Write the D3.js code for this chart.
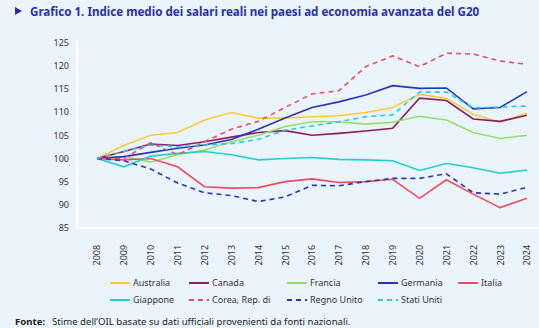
<!DOCTYPE html>
<html>
<head>
<meta charset="utf-8">
<script src="https://cdn.jsdelivr.net/npm/d3@7"></script>
<style>
  body { margin: 0; background: #eaf4fd; }
  svg { display: block; font-family: "Noto Sans", sans-serif; }
</style>
</head>
<body>
<script>
// anni e serie (indice, 2008 = 100)
var years = [2008, 2009, 2010, 2011, 2012, 2013, 2014, 2015, 2016, 2017, 2018, 2019, 2020, 2021, 2022, 2023, 2024];
var australia = [100, 102.8, 105.0, 105.6, 108.3, 109.9, 108.7, 108.7, 109.0, 109.2, 109.9, 111.0, 113.8, 113.0, 109.5, 107.8, 109.8];
var canada = [100, 101.5, 103.1, 102.8, 103.6, 104.6, 105.6, 106.0, 105.0, 105.4, 105.9, 106.5, 113.0, 112.5, 108.5, 108.0, 109.3];
var francia = [100, 100.4, 99.2, 100.8, 101.8, 103.6, 105.0, 106.9, 107.9, 107.9, 107.4, 107.8, 109.1, 108.3, 105.6, 104.3, 105.0];
var germania = [100, 100.4, 101.3, 102.2, 102.9, 104.1, 106.3, 108.7, 111.0, 112.2, 113.7, 115.7, 115.1, 115.2, 110.7, 111.0, 114.4];
var italia = [100, 99.7, 100.0, 98.2, 93.9, 93.6, 93.7, 95.0, 95.6, 94.8, 95.0, 95.5, 91.4, 95.4, 92.3, 89.4, 91.4];
var giappone = [100, 98.2, 100.5, 101.1, 101.5, 100.8, 99.7, 100.0, 100.2, 99.8, 99.7, 99.5, 97.4, 98.9, 98.0, 96.8, 97.5];
var corea = [100, 100.0, 103.4, 100.8, 103.6, 106.3, 108.0, 111.0, 113.9, 114.6, 119.8, 122.1, 119.8, 122.7, 122.5, 121.0, 120.3];
var regnoUnito = [100, 99.5, 97.7, 94.7, 92.6, 92.0, 90.7, 91.7, 94.2, 94.1, 95.0, 95.7, 95.7, 96.7, 92.6, 92.3, 93.8];
var statiUniti = [100, 101.5, 102.9, 102.5, 102.9, 103.2, 104.1, 106.1, 107.0, 107.9, 109.0, 109.4, 114.3, 114.3, 110.9, 111.1, 111.3];
var yTicks = [85, 90, 95, 100, 105, 110, 115, 120, 125];

var series = [
  { name: "Australia", values: australia, color: "#ffc933", dash: null },
  { name: "Canada", values: canada, color: "#8c1c5e", dash: null },
  { name: "Francia", values: francia, color: "#93e065", dash: null },
  { name: "Germania", values: germania, color: "#2b32c0", dash: null },
  { name: "Italia", values: italia, color: "#f44a5c", dash: null },
  { name: "Giappone", values: giappone, color: "#22cfcf", dash: null },
  { name: "Corea, Rep. di", values: corea, color: "#f44a5c", dash: "5,4" },
  { name: "Regno Unito", values: regnoUnito, color: "#2b32c0", dash: "5,4" },
  { name: "Stati Uniti", values: statiUniti, color: "#22cfdc", dash: "5,4" }
];

var w = 539, h = 328;
var svg = d3.select("body").append("svg").attr("width", w).attr("height", h);

// titolo
svg.append("path")
  .attr("d", "M15,7 L22,11 L15,15 Z")
  .attr("fill", "#2b2fa8");
svg.append("text")
  .attr("x", 30).attr("y", 15.5)
  .attr("font-size", "11.6px").attr("font-weight", "bold")
  .attr("fill", "#2b2fa8")
  .text("Grafico 1. Indice medio dei salari reali nei paesi ad economia avanzata del G20");

var x = d3.scalePoint().domain(years).range([97, 527]);
var y = d3.scaleLinear().domain([85, 125]).range([228, 42.5]);

// assi bianchi
svg.append("line").attr("x1", 77).attr("x2", 77).attr("y1", 40).attr("y2", 228)
  .attr("stroke", "#ffffff").attr("stroke-width", 2);
svg.append("line").attr("x1", 76).attr("x2", 539).attr("y1", 228).attr("y2", 228)
  .attr("stroke", "#ffffff").attr("stroke-width", 2);

var yAxis = svg.append("g")
  .attr("transform", "translate(77,0)")
  .call(d3.axisLeft(y).tickValues(yTicks).tickSize(0).tickPadding(8));
yAxis.select(".domain").remove();
yAxis.selectAll("text").attr("font-size", "9px").attr("fill", "#333").attr("font-family", "Noto Sans");

var xAxis = svg.append("g")
  .attr("transform", "translate(0,244)")
  .call(d3.axisBottom(x).tickSize(0).tickFormat(d3.format("d")));
xAxis.select(".domain").remove();
xAxis.selectAll("text")
  .attr("font-size", "9px").attr("fill", "#333").attr("font-family", "Noto Sans")
  .attr("transform", "rotate(-90)")
  .attr("text-anchor", "end")
  .attr("x", 0).attr("y", 0).attr("dx", "-0.1em").attr("dy", "0.32em");

var line = d3.line()
  .x(function (d, i) { return x(years[i]); })
  .y(function (d) { return y(d); });

svg.selectAll("path.serie")
  .data(series)
  .enter()
  .append("path")
  .attr("class", "serie")
  .attr("d", function (d) { return line(d.values); })
  .attr("fill", "none")
  .attr("stroke", function (d) { return d.color; })
  .attr("stroke-width", 1.6)
  .attr("stroke-dasharray", function (d) { return d.dash; });

// legenda
var legX = [110, 189, 287, 378, 458];
var leg = svg.selectAll("g.leg")
  .data(series)
  .enter()
  .append("g")
  .attr("class", "leg")
  .attr("transform", function (d, i) {
    return "translate(" + legX[i % 5] + "," + (i < 5 ? 283 : 300) + ")";
  });
leg.append("line")
  .attr("x1", 0).attr("x2", 20)
  .attr("stroke", function (d) { return d.color; })
  .attr("stroke-width", 2)
  .attr("stroke-dasharray", function (d) { return d.dash; });
leg.append("text")
  .attr("x", 23).attr("dy", "0.35em")
  .attr("font-size", "9px").attr("fill", "#333")
  .text(function (d) { return d.name; });

// fonte
svg.append("text")
  .attr("x", 15).attr("y", 324.5)
  .attr("font-size", "9.6px").attr("font-weight", "bold").attr("fill", "#222")
  .text("Fonte:");
svg.append("text")
  .attr("x", 52).attr("y", 324.5)
  .attr("font-size", "9.6px").attr("fill", "#222")
  .text("Stime dell\u2019OIL basate su dati ufficiali provenienti da fonti nazionali.");
</script>
</body>
</html>
